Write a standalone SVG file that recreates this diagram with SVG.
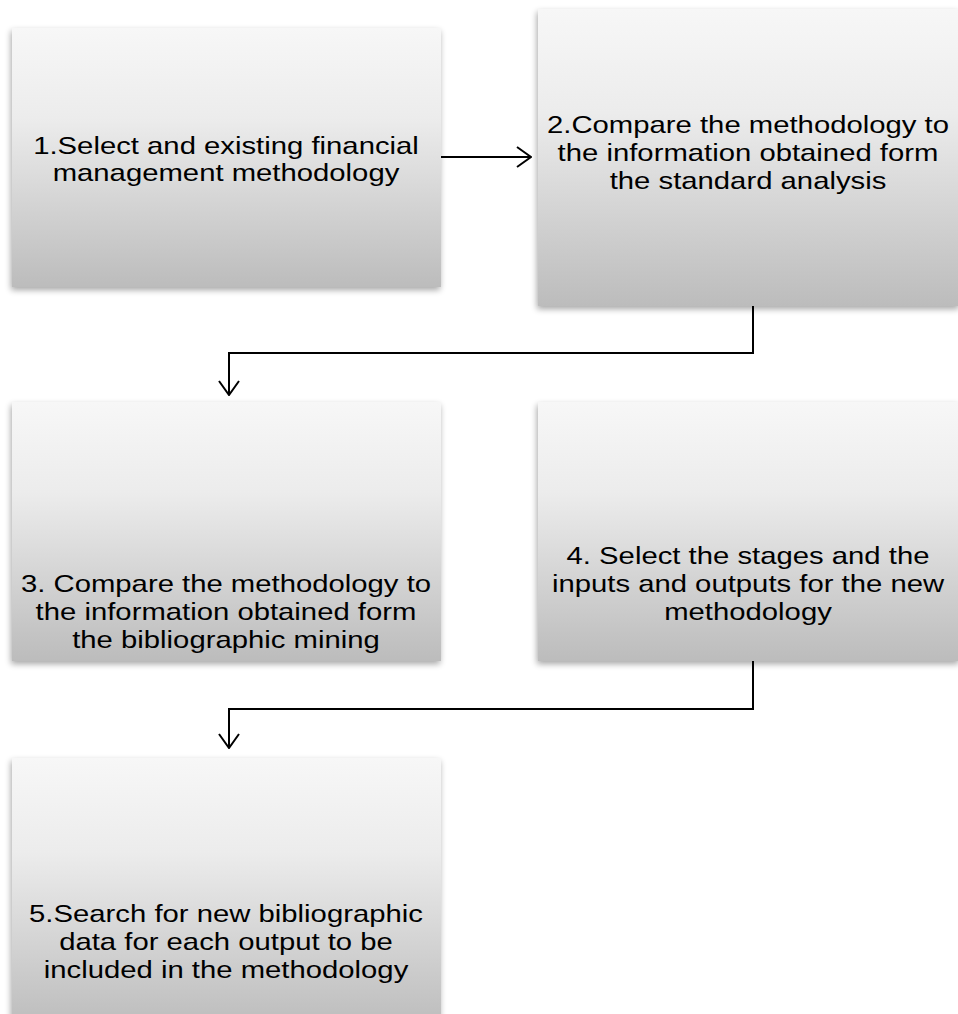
<svg xmlns="http://www.w3.org/2000/svg" width="958" height="1014" viewBox="0 0 958 1014">
  <defs>
    <linearGradient id="boxFill" x1="0" y1="0" x2="0" y2="1">
      <stop offset="0" stop-color="#f7f7f7"/>
      <stop offset="0.35" stop-color="#ececec"/>
      <stop offset="1" stop-color="#bcbcbc"/>
    </linearGradient>
    <filter id="shadow" x="-10%" y="-10%" width="120%" height="120%">
      <feGaussianBlur in="SourceAlpha" stdDeviation="3"/>
      <feOffset dx="-1" dy="3" result="blur"/>
      <feComponentTransfer><feFuncA type="linear" slope="0.35"/></feComponentTransfer>
      <feMerge><feMergeNode/><feMergeNode in="SourceGraphic"/></feMerge>
    </filter>
    <marker id="arrow" viewBox="0 0 16 22" refX="15" refY="11" markerWidth="16" markerHeight="22" markerUnits="userSpaceOnUse" orient="auto">
      <path d="M1,1 L15,11 L1,21" fill="none" stroke="#000" stroke-width="2"/>
    </marker>
  </defs>
  <style>
    .box { fill: url(#boxFill); filter: url(#shadow); }
    .label { font-family: "Liberation Sans", Arial, sans-serif; font-size: 24px; fill: #000; text-anchor: middle; }
    .conn { fill: none; stroke: #000; stroke-width: 2; marker-end: url(#arrow); }
  </style>
  <rect width="958" height="1014" fill="#fff"/>

  <g id="node1">
    <rect class="box" x="12" y="28" width="429" height="259"/>
    <g transform="translate(226 0) scale(1.22 1)">
      <text class="label" x="0" y="154">1.Select and existing financial</text>
      <text class="label" x="0" y="181">management methodology</text>
    </g>
  </g>

  <g id="node2">
    <rect class="box" x="538" y="9" width="422" height="297"/>
    <g transform="translate(748 0) scale(1.22 1)">
      <text class="label" x="0" y="133">2.Compare the methodology to</text>
      <text class="label" x="0" y="161">the information obtained form</text>
      <text class="label" x="0" y="189">the standard analysis</text>
    </g>
  </g>

  <g id="node3">
    <rect class="box" x="12" y="402" width="429" height="259"/>
    <g transform="translate(226 0) scale(1.22 1)">
      <text class="label" x="0" y="592">3. Compare the methodology to</text>
      <text class="label" x="0" y="620">the information obtained form</text>
      <text class="label" x="0" y="648">the bibliographic mining</text>
    </g>
  </g>

  <g id="node4">
    <rect class="box" x="538" y="402" width="422" height="259"/>
    <g transform="translate(748 0) scale(1.22 1)">
      <text class="label" x="0" y="564">4. Select the stages and the</text>
      <text class="label" x="0" y="592">inputs and outputs for the new</text>
      <text class="label" x="0" y="620">methodology</text>
    </g>
  </g>

  <g id="node5">
    <rect class="box" x="12" y="758" width="429" height="270"/>
    <g transform="translate(226 0) scale(1.22 1)">
      <text class="label" x="0" y="922">5.Search for new bibliographic</text>
      <text class="label" x="0" y="950">data for each output to be</text>
      <text class="label" x="0" y="978">included in the methodology</text>
    </g>
  </g>

  <g id="connectors">
    <path class="conn" d="M441,157 H531"/>
    <path class="conn" d="M753,306 V353 H229 V395"/>
    <path class="conn" d="M753,661 V709 H229 V748"/>
  </g>
</svg>
